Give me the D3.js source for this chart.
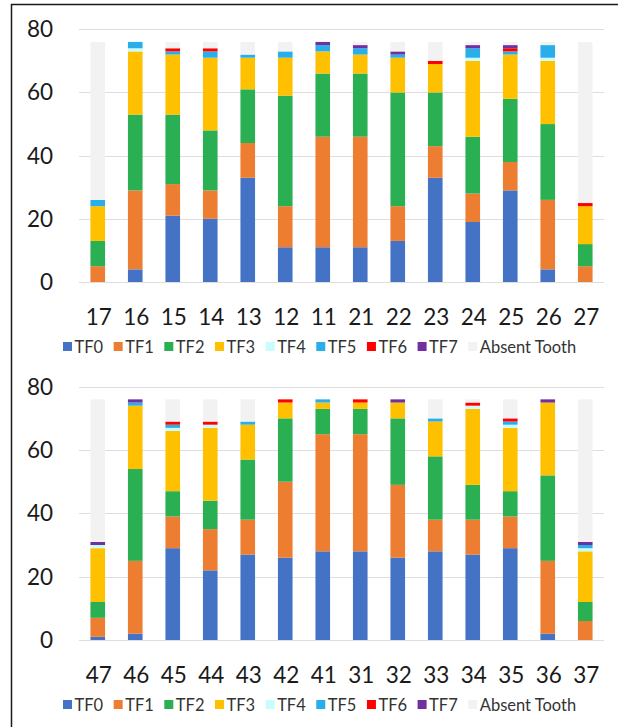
<!DOCTYPE html>
<html>
<head>
<meta charset="utf-8">
<script src="https://cdn.jsdelivr.net/npm/d3@7"></script>
<style>
  html, body { margin: 0; padding: 0; background: #fff; }
  svg { display: block; font-family: Lato, "Open Sans", sans-serif; }
</style>
</head>
<body>
<svg id="chart" width="618" height="727"></svg>
<script>
// ---- data ----
const seriesNames = ["TF0", "TF1", "TF2", "TF3", "TF4", "TF5", "TF6", "TF7", "Absent Tooth"];
const seriesColors = ["#4472C4", "#ED7D31", "#2AB052", "#FFC000", "#C9FCFC", "#29AEEA", "#FF0000", "#7030A0", "#F2F2F2"];
const yTicks = [0, 20, 40, 60, 80];

const upperTeeth = ["17", "16", "15", "14", "13", "12", "11", "21", "22", "23", "24", "25", "26", "27"];
const upperTF0 = [0, 4, 21, 20, 33, 11, 11, 11, 13, 33, 19, 29, 4, 0];
const upperTF1 = [5, 25, 10, 9, 11, 13, 35, 35, 11, 10, 9, 9, 22, 5];
const upperTF2 = [8, 24, 22, 19, 17, 35, 20, 20, 36, 17, 18, 20, 24, 7];
const upperTF3 = [11, 20, 19, 23, 10, 12, 7, 6, 11, 9, 24, 14, 20, 12];
const upperTF4 = [0, 1, 0, 0, 0, 0, 0, 0, 0, 0, 1, 0, 1, 0];
const upperTF5 = [2, 2, 1, 2, 1, 2, 2, 2, 1, 0, 3, 1, 4, 0];
const upperTF6 = [0, 0, 1, 1, 0, 0, 0, 0, 0, 1, 0, 1, 0, 1];
const upperTF7 = [0, 0, 0, 0, 0, 0, 1, 1, 1, 0, 1, 1, 0, 0];
const upperAbsent = [50, 0, 2, 2, 4, 3, 0, 1, 3, 6, 1, 1, 1, 51];

const lowerTeeth = ["47", "46", "45", "44", "43", "42", "41", "31", "32", "33", "34", "35", "36", "37"];
const lowerTF0 = [1, 2, 29, 22, 27, 26, 28, 28, 26, 28, 27, 29, 2, 0];
const lowerTF1 = [6, 23, 10, 13, 11, 24, 37, 37, 23, 10, 11, 10, 23, 6];
const lowerTF2 = [5, 29, 8, 9, 19, 20, 8, 8, 21, 20, 11, 8, 27, 6];
const lowerTF3 = [17, 20, 19, 23, 11, 5, 2, 2, 5, 11, 24, 20, 23, 16];
const lowerTF4 = [1, 0, 1, 1, 0, 0, 0, 0, 0, 0, 1, 1, 0, 1];
const lowerTF5 = [0, 1, 1, 0, 1, 0, 1, 0, 0, 1, 0, 1, 0, 1];
const lowerTF6 = [0, 0, 1, 1, 0, 1, 0, 1, 0, 0, 1, 1, 0, 0];
const lowerTF7 = [1, 1, 0, 0, 0, 0, 0, 0, 1, 0, 0, 0, 1, 1];
const lowerAbsent = [45, 0, 7, 7, 7, 0, 0, 0, 0, 6, 1, 6, 0, 45];

const upperSeries = [upperTF0, upperTF1, upperTF2, upperTF3, upperTF4, upperTF5, upperTF6, upperTF7, upperAbsent];
const lowerSeries = [lowerTF0, lowerTF1, lowerTF2, lowerTF3, lowerTF4, lowerTF5, lowerTF6, lowerTF7, lowerAbsent];

// ---- drawing ----
const svg = d3.select("#chart");

// outer frame (left + top)
svg.append("line").attr("x1", 11.5).attr("x2", 11.5).attr("y1", 4).attr("y2", 727)
  .attr("stroke", "#1a1a1a").attr("stroke-width", 1.5);
svg.append("line").attr("x1", 11).attr("x2", 618).attr("y1", 4.5).attr("y2", 4.5)
  .attr("stroke", "#1a1a1a").attr("stroke-width", 1.5);

function drawPanel(teeth, seriesArrays, y0px, y80px) {
  const g = svg.append("g");
  const x = d3.scaleBand().domain(teeth).range([79, 604]).padding(0);
  const y = d3.scaleLinear().domain([0, 80]).range([y0px, y80px]);
  const barW = x.step() * 0.39;

  // gridlines
  g.selectAll("line.grid").data(yTicks).join("line")
    .attr("x1", 79).attr("x2", 604)
    .attr("y1", d => Math.round(y(d)) + 0.5).attr("y2", d => Math.round(y(d)) + 0.5)
    .attr("stroke", "#dedede").attr("stroke-width", 1);

  // y labels
  g.selectAll("text.ylab").data(yTicks).join("text")
    .attr("x", 53).attr("y", d => y(d) + 8)
    .attr("text-anchor", "end")
    .attr("font-size", 22.5).attr("fill", "#1a1a1a")
    .text(d => d);

  // stacked data
  const rows = teeth.map((t, i) => {
    const r = { tooth: t };
    seriesNames.forEach((s, k) => { r[s] = seriesArrays[k][i]; });
    return r;
  });
  const stack = d3.stack().keys(seriesNames)(rows);

  stack.forEach((layer, k) => {
    g.append("g").attr("fill", seriesColors[k])
      .selectAll("rect").data(layer.filter(d => d[1] - d[0] > 0)).join("rect")
      .attr("x", d => x(d.data.tooth) + (x.step() - barW) / 2)
      .attr("width", barW)
      .attr("y", d => y(d[1]))
      .attr("height", d => y(d[0]) - y(d[1]));
  });

  // x labels
  g.selectAll("text.xlab").data(teeth).join("text")
    .attr("x", d => x(d) + x.step() / 2 + 1)
    .attr("y", y0px + 43)
    .attr("text-anchor", "middle")
    .attr("font-size", 22.5).attr("fill", "#1a1a1a")
    .text(d => d);

  // legend
  const lg = g.append("g").attr("transform", `translate(63, ${y0px + 65})`);
  let cx = 0;
  seriesNames.forEach((s, k) => {
    const item = lg.append("g").attr("transform", `translate(${cx},0)`);
    item.append("rect").attr("x", 0).attr("y", -5).attr("width", 9).attr("height", 9)
      .attr("fill", seriesColors[k]);
    const t = item.append("text").attr("x", 11.5).attr("y", 6)
      .attr("font-size", 16.5).attr("fill", "#333")
      .text(s);
    const w = t.node().getComputedTextLength();
    cx += 11.5 + w + 10.5;
  });
}

drawPanel(upperTeeth, upperSeries, 282, 29.3);
drawPanel(lowerTeeth, lowerSeries, 640, 386.7);
</script>
</body>
</html>
